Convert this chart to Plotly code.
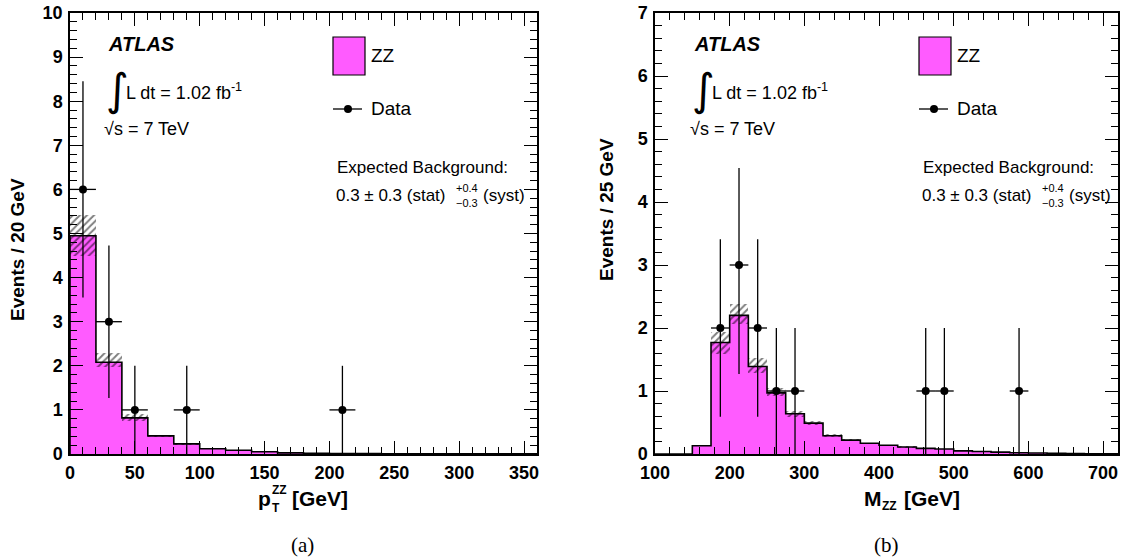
import plotly.graph_objects as go

W, H = 1123, 560

# ---------------- data: (a) pT of ZZ, 20 GeV bins ----------------
pt_edges = [0, 20, 40, 60, 80, 100, 120, 140, 160, 180, 200, 220, 240, 260, 280, 300, 320, 340, 360]
pt_mc = [4.95, 2.08, 0.82, 0.41, 0.23, 0.12, 0.085, 0.05, 0.025, 0.018, 0.013, 0.010, 0.007, 0.005, 0.004, 0.003, 0.002, 0.002]
pt_band_lo = [4.50, 1.97, 0.75, 0.38, 0.21, 0.11, 0.078, 0.045, 0.022, 0.016, 0.011, 0.009, 0.006, 0.004, 0.003, 0.002, 0.0015, 0.0015]
pt_band_hi = [5.42, 2.28, 0.90, 0.44, 0.25, 0.13, 0.092, 0.055, 0.028, 0.020, 0.015, 0.011, 0.008, 0.006, 0.005, 0.004, 0.0025, 0.0025]
pt_data_x = [10, 30, 50, 90, 210]
pt_data_y = [6, 3, 1, 1, 1]
pt_data_up = [2.45, 1.73, 1.0, 1.0, 1.0]
pt_data_dn = [2.45, 1.73, 1.0, 1.0, 1.0]
pt_data_xerr = 10

# ---------------- data: (b) M of ZZ, 25 GeV bins ----------------
m_edges = [100, 125, 150, 175, 200, 225, 250, 275, 300, 325, 350, 375, 400, 425, 450, 475, 500, 525, 550, 575, 600, 625, 650, 675, 700, 725]
m_mc = [0, 0, 0.13, 1.77, 2.20, 1.39, 0.97, 0.64, 0.49, 0.29, 0.22, 0.17, 0.14, 0.11, 0.09, 0.08, 0.05, 0.04, 0.03, 0.02, 0.015, 0.010, 0.008, 0.005, 0.003]
m_band_lo = [0, 0, 0.12, 1.59, 2.07, 1.28, 0.92, 0.59, 0.46, 0.27, 0.205, 0.16, 0.13, 0.10, 0.083, 0.074, 0.046, 0.037, 0.028, 0.018, 0.014, 0.009, 0.007, 0.0045, 0.0027]
m_band_hi = [0, 0, 0.14, 1.93, 2.38, 1.52, 1.04, 0.69, 0.53, 0.31, 0.235, 0.18, 0.15, 0.12, 0.097, 0.086, 0.054, 0.043, 0.032, 0.022, 0.016, 0.011, 0.009, 0.0055, 0.0033]
m_data_x = [187.5, 212.5, 237.5, 262.5, 287.5, 462.5, 487.5, 587.5]
m_data_y = [2, 3, 2, 1, 1, 1, 1, 1]
m_data_up = [1.41, 1.54, 1.41, 1.0, 1.0, 1.0, 1.0, 1.0]
m_data_dn = [1.41, 1.73, 1.41, 1.0, 1.0, 1.0, 1.0, 1.0]
m_data_xerr = 12.5

MAGENTA = "#ff5bff"
FONT = "Liberation Sans"

fig = go.Figure()


def add_panel(edges, mc, lo, hi, dx, dy, up, dn, xerr, xa, ya):
    centers = [(edges[i] + edges[i + 1]) / 2 for i in range(len(mc))]
    widths = [edges[i + 1] - edges[i] for i in range(len(mc))]
    fig.add_trace(go.Bar(x=centers, y=mc, width=widths, marker=dict(color=MAGENTA, line=dict(width=0)),
                         xaxis=xa, yaxis=ya, showlegend=False, hoverinfo="skip"))
    fig.add_trace(go.Bar(x=centers, y=[h - l for h, l in zip(hi, lo)], base=lo, width=widths,
                         marker=dict(color="rgba(0,0,0,0)", line=dict(width=0),
                                     pattern=dict(shape="/", fgcolor="black", bgcolor="rgba(0,0,0,0)",
                                                  size=5, solidity=0.4, fillmode="overlay")),
                         xaxis=xa, yaxis=ya, showlegend=False, hoverinfo="skip"))
    xs = [edges[0]] + list(edges)
    ys = [0] + list(mc) + [0]
    fig.add_trace(go.Scatter(x=xs, y=ys, mode="lines", line=dict(color="black", width=1.6, shape="hv"),
                             xaxis=xa, yaxis=ya, showlegend=False, hoverinfo="skip"))
    fig.add_trace(go.Scatter(x=dx, y=dy, mode="markers",
                             marker=dict(color="black", size=8),
                             error_y=dict(type="data", symmetric=False, array=up, arrayminus=dn,
                                          color="black", thickness=1.3, width=0),
                             error_x=dict(type="data", array=[xerr] * len(dx), color="black",
                                          thickness=1.3, width=0),
                             xaxis=xa, yaxis=ya, showlegend=False, hoverinfo="skip"))


add_panel(pt_edges, pt_mc, pt_band_lo, pt_band_hi, pt_data_x, pt_data_y, pt_data_up, pt_data_dn, pt_data_xerr, "x", "y")
add_panel(m_edges, m_mc, m_band_lo, m_band_hi, m_data_x, m_data_y, m_data_up, m_data_dn, m_data_xerr, "x2", "y2")


def px(x):
    return x / W


def py(y):
    return 1 - y / H


top, bot = 13, 454


def axis(domain, rng, dtick, mdtick, anchor, standoff=0):
    return dict(domain=domain, range=rng, dtick=dtick, tick0=0, anchor=anchor, automargin=False,
                showline=True, linecolor="black", linewidth=1.5, mirror="allticks",
                ticks="inside", ticklen=13, tickwidth=1.2, tickcolor="black",
                showgrid=False, zeroline=False, ticklabelstandoff=standoff,
                tickfont=dict(family=FONT, size=18, color="black", weight="bold"),
                minor=dict(dtick=mdtick, ticks="inside", ticklen=7, tickwidth=1, tickcolor="black",
                           showgrid=False))


fig.update_layout(
    template="none",
    width=W, height=H, margin=dict(l=0, r=0, t=0, b=0, pad=0), autosize=False,
    paper_bgcolor="white", plot_bgcolor="white", barmode="overlay", bargap=0,
    font=dict(family=FONT, color="black"),
    xaxis=axis([px(70), px(537)], [0, 360], 50, 10, "y", standoff=2),
    yaxis=axis([py(bot), py(top)], [0, 10], 1, 0.2, "x", standoff=2),
    xaxis2=axis([px(655), px(1118)], [100, 720], 100, 20, "y2", standoff=2),
    yaxis2=axis([py(bot), py(top)], [0, 7], 1, 0.2, "x2", standoff=2),
)

ann = []
shapes = []


def txt(x, y, s, size=15, xanchor="left", yanchor="middle", family=FONT, angle=0, **kw):
    ann.append(dict(x=px(x), y=py(y), xref="paper", yref="paper", text=s, showarrow=False,
                    xanchor=xanchor, yanchor=yanchor, textangle=angle,
                    font=dict(family=family, size=size, color="black", **kw)))


for off in (0, 586):
    txt(106 + off, 44, "<b><i>ATLAS</i></b>", size=20)
    txt(104 + off, 89, "∫", size=44, family="DejaVu Sans")
    txt(124 + off, 92, "L dt = 1.02 fb<sup>-1</sup>", size=18)
    txt(102 + off, 129, "√s = 7 TeV", size=18)
    shapes.append(dict(type="rect", xref="paper", yref="paper", x0=px(333 + off), x1=px(365 + off),
                       y0=py(75), y1=py(37), fillcolor=MAGENTA, line=dict(color="black", width=1.2)))
    txt(369 + off, 56, "ZZ", size=19)
    shapes.append(dict(type="line", xref="paper", yref="paper", x0=px(333 + off), x1=px(362 + off),
                       y0=py(109), y1=py(109), line=dict(color="black", width=1.3)))
    shapes.append(dict(type="circle", xref="paper", yref="paper", x0=px(344 + off), x1=px(352 + off),
                       y0=py(113), y1=py(105), fillcolor="black", line=dict(color="black", width=0)))
    txt(369 + off, 109, "Data", size=19)
    txt(335 + off, 167, "Expected Background:", size=17)
    txt(334 + off, 195, "0.3 ± 0.3 (stat)", size=17)
    txt(454 + off, 188, "+0.4", size=11)
    txt(454 + off, 203, "−0.3", size=11)
    txt(481 + off, 195, "(syst)", size=17)

# axis titles
txt(18, 250, "<b>Events / 20 GeV</b>", size=19, xanchor="center", angle=-90)
txt(606, 210, "<b>Events / 25 GeV</b>", size=19, xanchor="center", angle=-90)
txt(256, 498, "<b>p</b>", size=21)
txt(270, 490, "<b>ZZ</b>", size=12)
txt(270, 508, "<b>T</b>", size=12)
txt(290, 498, "<b>[GeV]</b>", size=21)
txt(862, 498, "<b>M</b>", size=21)
txt(880, 506, "<b>ZZ</b>", size=12)
txt(902, 498, "<b>[GeV]</b>", size=21)
txt(302, 545, "(a)", size=21, xanchor="center", family="Liberation Serif")
txt(886, 545, "(b)", size=21, xanchor="center", family="Liberation Serif")

fig.update_layout(annotations=ann, shapes=shapes)
fig.write_html("out.html", config={"displayModeBar": False},
               post_script="document.body.style.margin='0';document.body.style.overflow='hidden';")
